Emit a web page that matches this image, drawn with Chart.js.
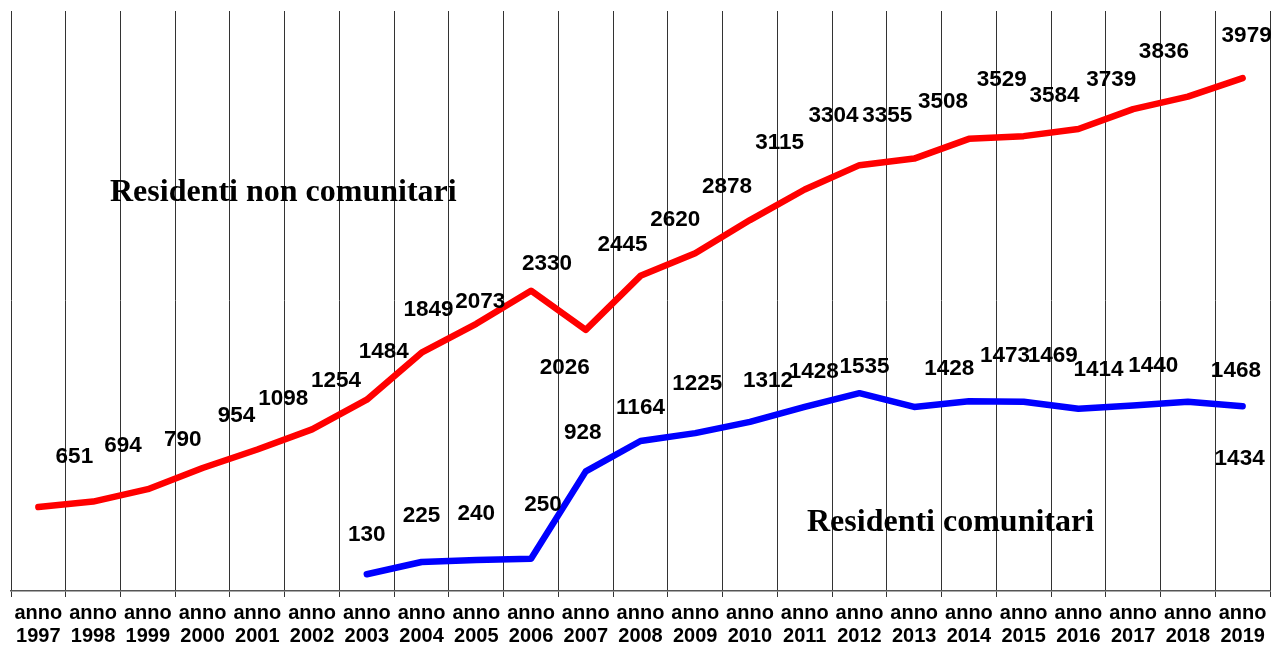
<!DOCTYPE html>
<html>
<head>
<meta charset="utf-8">
<script src="https://cdn.jsdelivr.net/npm/chart.js@4.4.0/dist/chart.umd.min.js"></script>
<style>
  html, body { margin: 0; padding: 0; background: #fff; }
  #wrap { width: 1276px; height: 647px; }
</style>
</head>
<body>
<div id="wrap"><canvas id="chart"></canvas></div>
<script>
const years = ["1997", "1998", "1999", "2000", "2001", "2002", "2003", "2004", "2005", "2006", "2007", "2008",
  "2009", "2010", "2011", "2012", "2013", "2014", "2015", "2016", "2017", "2018", "2019"];
const nonComunitari = [651, 694, 790, 954, 1098, 1254, 1484, 1849, 2073, 2330, 2026, 2445,
  2620, 2878, 3115, 3304, 3355, 3508, 3529, 3584, 3739, 3836, 3979];
const comunitari = [null, null, null, null, null, null, 130, 225, 240, 250, 928, 1164,
  1225, 1312, 1428, 1535, 1428, 1473, 1469, 1414, 1440, 1468, 1434];

// label nudges (px) relative to each point, as placed in the original
const redShift = [[36, -50], [30, -56], [35, -49], [34, -52], [26, -51], [24, -49], [17, -48], [7, -43],
  [4, -22], [16, -27], [-21, 38], [-18, -31], [-20, -34], [-23, -33], [-25, -47], [-26, -49], [-27, -43],
  [-26, -37], [-22, -56], [-24, -33], [-22, -29], [-24, -45], [4, -42]];
const blueShift = [null, null, null, null, null, null, [0, -39], [0, -46], [0, -46], [12, -54], [-3, -39],
  [0, -33], [2, -49], [18, -41], [9, -35], [5, -26], [35, -38], [36, -45], [29, -46], [20, -39],
  [20, -40], [48, -31], [-3, 53]];

const valueLabels = {
  id: "valueLabels",
  afterDatasetsDraw(chart) {
    const ctx = chart.ctx;
    const shifts = [redShift, blueShift];
    ctx.save();
    ctx.font = "bold 22.5px 'Liberation Sans', Arial, sans-serif";
    ctx.fillStyle = "#000";
    ctx.textAlign = "center";
    ctx.textBaseline = "middle";
    chart.data.datasets.forEach((ds, d) => {
      const meta = chart.getDatasetMeta(d);
      ds.data.forEach((v, i) => {
        if (v === null) return;
        const p = meta.data[i];
        const s = shifts[d][i];
        ctx.fillText(String(v), p.x + s[0], p.y + s[1]);
      });
    });
    // series captions
    ctx.font = "bold 32px 'Liberation Serif', 'Times New Roman', serif";
    ctx.textAlign = "left";
    ctx.fillText("Residenti non comunitari", 110, 193);
    ctx.fillText("Residenti comunitari", 807, 523);
    ctx.restore();
  }
};

new Chart(document.getElementById("chart"), {
  type: "line",
  data: {
    labels: years.map(y => ["anno", y]),
    datasets: [
      {
        label: "Residenti non comunitari",
        data: nonComunitari,
        borderColor: "#ff0000",
        borderWidth: 6.5,
        pointRadius: 0,
        tension: 0,
        borderJoinStyle: "round",
        borderCapStyle: "round"
      },
      {
        label: "Residenti comunitari",
        data: comunitari,
        borderColor: "#0000ff",
        borderWidth: 6.5,
        pointRadius: 0,
        tension: 0,
        borderJoinStyle: "round",
        borderCapStyle: "round"
      }
    ]
  },
  options: {
    responsive: true,
    maintainAspectRatio: false,
    animation: false,
    layout: { padding: { left: 11, right: 6, top: 11, bottom: 0 } },
    plugins: {
      legend: { display: false },
      tooltip: { enabled: false }
    },
    scales: {
      x: {
        offset: true,
        afterFit(scale) { scale.height = 56; },
        grid: { offset: true, color: "#333", lineWidth: 1, tickLength: 6, drawTicks: true },
        border: { color: "#555", width: 1.5 },
        ticks: {
          color: "#000",
          padding: 5,
          maxRotation: 0,
          autoSkip: false,
          font: { family: "'Liberation Sans', Arial, sans-serif", size: 20, weight: "bold", lineHeight: 1.15 }
        }
      },
      y: {
        display: false,
        min: 0,
        max: 4500
      }
    }
  },
  plugins: [valueLabels]
});
</script>
</body>
</html>
